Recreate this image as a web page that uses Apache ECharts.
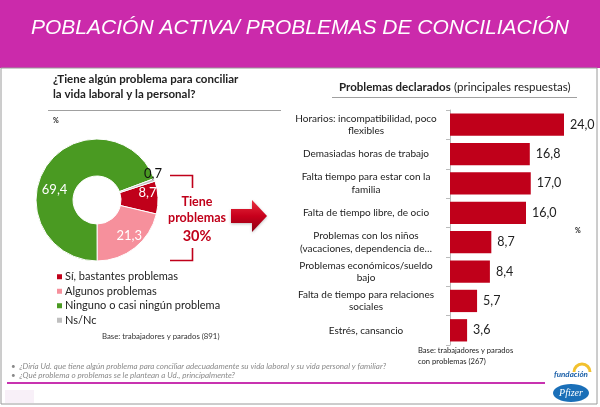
<!DOCTYPE html>
<html>
<head>
<meta charset="utf-8">
<script src="https://cdn.jsdelivr.net/npm/echarts@6/dist/echarts.min.js"></script>
<style>
html,body{margin:0;padding:0;background:#fff;}
#c{width:600px;height:407px;}
</style>
</head>
<body>
<div id="c"></div>
<script>
// ---- data ----
const pieNames = ['Sí, bastantes problemas', 'Algunos problemas', 'Ninguno o casi ningún problema', 'Ns/Nc'];
const pieValues = [8.7, 21.3, 69.4, 0.7];
const pieColors = ['#C0001A', '#F6909C', '#4A9A22', '#BFBFBF'];

const barCategories = [
  'Horarios: incompatibilidad, poco\nflexibles',
  'Demasiadas horas de trabajo',
  'Falta tiempo para estar con la\nfamilia',
  'Falta de tiempo libre, de ocio',
  'Problemas con los niños\n(vacaciones, dependencia de…',
  'Problemas económicos/sueldo\nbajo',
  'Falta de tiempo para relaciones\nsociales',
  'Estrés, cansancio'
];
const barValues = [24.0, 16.8, 17.0, 16.0, 8.7, 8.4, 5.7, 3.6];

const fmt = v => v.toFixed(1).replace('.', ',');
const FONT = 'Lato, "Open Sans", sans-serif';

// label nudges for the donut (relative to the library's inside position)
const pieLabelNudge = [[5, -5], [4, 0], [-5, 16], [13, -11]];

const chart = echarts.init(document.getElementById('c'), null, {renderer: 'canvas'});

const option = {
  animation: false,
  backgroundColor: '#ffffff',
  textStyle: {fontFamily: FONT},
  legend: {
    orient: 'vertical',
    left: 55,
    top: 271,
    padding: 0,
    itemWidth: 7,
    itemHeight: 7,
    itemGap: 3,
    icon: 'rect',
    textStyle: {fontSize: 11, lineHeight: 11.5, color: '#222', fontFamily: FONT, padding: [0, 0, 0, -3]},
    data: pieNames
  },
  grid: {left: 450, top: 110, width: 123.5, height: 235},
  xAxis: {type: 'value', min: 0, max: 26, show: false},
  yAxis: {
    type: 'category',
    inverse: true,
    data: barCategories,
    axisLine: {show: true, lineStyle: {color: '#BBBBBB', width: 1}},
    axisTick: {show: true, length: 4, lineStyle: {color: '#BBBBBB'}},
    axisLabel: {
      margin: 9,
      formatter: v => v.split('\n').map(s => '{a|' + s + '}').join('\n'),
      rich: {a: {fontSize: 10, color: '#222', fontFamily: FONT, align: 'center', width: 150, lineHeight: 12.5}}
    }
  },
  series: [
    {
      type: 'pie',
      center: [97, 200],
      radius: [24, 61],
      startAngle: 18,
      clockwise: true,
      avoidLabelOverlap: false,
      itemStyle: {borderColor: '#fff', borderWidth: 1},
      label: {
        show: true,
        position: 'inside',
        color: '#fff',
        fontSize: 13,
        fontFamily: FONT,
        formatter: p => fmt(p.value)
      },
      labelLine: {show: false},
      labelLayout: p => ({dx: pieLabelNudge[p.dataIndex][0], dy: pieLabelNudge[p.dataIndex][1]}),
      data: pieNames.map((n, i) => ({
        name: n, value: pieValues[i], itemStyle: {color: pieColors[i]},
        label: i === 3 ? {color: '#111'} : {}
      }))
    },
    {
      type: 'bar',
      data: barValues,
      barCategoryGap: '24%',
      itemStyle: {color: '#C0001A'},
      label: {
        show: true, position: 'right', distance: 6,
        fontSize: 12.5, color: '#222', fontFamily: FONT,
        formatter: p => fmt(p.value)
      }
    }
  ],
  graphic: [
    // title band
    {type: 'rect', z: -10, shape: {x: 0, y: 0, width: 600, height: 68}, style: {fill: '#CB2AAB'}},
    {type: 'text', x: 300, y: 28, style: {text: 'POBLACIÓN ACTIVA/ PROBLEMAS DE CONCILIACIÓN', fill: '#fff',
      font: 'italic 21px "Liberation Sans", Arial, sans-serif', align: 'center', verticalAlign: 'middle'}},
    // panel frame
    {type: 'rect', z: -9, shape: {x: 1, y: 68, width: 596, height: 336}, style: {fill: 'none', stroke: '#9A9A9A', lineWidth: 1}},
    // left heading
    {type: 'text', x: 53, y: 87, style: {text: '¿Tiene algún problema para conciliar\nla vida laboral y la personal?', fill: '#222',
      font: 'bold 11.5px ' + FONT, lineHeight: 15, verticalAlign: 'middle'}},
    {type: 'line', shape: {x1: 48, y1: 110.5, x2: 281, y2: 110.5}, style: {stroke: '#A0A0A0', lineWidth: 1}},
    {type: 'text', x: 53, y: 121, style: {text: '%', fill: '#222', font: 'bold 7px ' + FONT, verticalAlign: 'middle'}},
    // bracket
    {type: 'polyline', shape: {points: [[170, 175.5], [192.5, 175.5], [192.5, 188]]}, style: {stroke: '#C0001A', lineWidth: 1.6, fill: 'none'}},
    {type: 'polyline', shape: {points: [[192.5, 248], [192.5, 260.5], [170, 260.5]]}, style: {stroke: '#C0001A', lineWidth: 1.6, fill: 'none'}},
    {type: 'text', x: 197, y: 202, style: {text: 'Tiene', fill: '#C0001A', font: 'bold 12.5px ' + FONT, align: 'center', verticalAlign: 'middle'}},
    {type: 'text', x: 197, y: 218, style: {text: 'problemas', fill: '#C0001A', font: 'bold 12.5px ' + FONT, align: 'center', verticalAlign: 'middle'}},
    {type: 'text', x: 197, y: 236, style: {text: '30%', fill: '#C0001A', font: 'bold 14.5px ' + FONT, align: 'center', verticalAlign: 'middle'}},
    // arrow
    {type: 'polygon', shape: {points: [[231, 209], [252, 209], [252, 200], [267, 216], [252, 232], [252, 223], [231, 223]]},
      style: {fill: new echarts.graphic.LinearGradient(0, 0, 0, 1, [
        {offset: 0, color: '#E8303F'}, {offset: 0.5, color: '#C8001C'}, {offset: 1, color: '#8E0012'}]),
        shadowColor: 'rgba(0,0,0,0.25)', shadowBlur: 3, shadowOffsetY: 1}},
    // left base
    {type: 'text', x: 102, y: 336, style: {text: 'Base: trabajadores y parados (891)', fill: '#333', font: '7.8px ' + FONT, verticalAlign: 'middle'}},
    // right heading
    {type: 'text', x: 339, y: 87, style: {text: '{b|Problemas declarados} {n|(principales respuestas)}', verticalAlign: 'middle',
      rich: {b: {font: 'bold 11.5px ' + FONT, fill: '#222'}, n: {font: '11.5px ' + FONT, fill: '#222'}}}},
    {type: 'line', shape: {x1: 332, y1: 97.5, x2: 577, y2: 97.5}, style: {stroke: '#A0A0A0', lineWidth: 1}},
    {type: 'text', x: 575, y: 231, style: {text: '%', fill: '#222', font: 'bold 7px ' + FONT, verticalAlign: 'middle'}},
    // right base
    {type: 'text', x: 418, y: 356, style: {text: 'Base: trabajadores y parados\ncon problemas (267)', fill: '#222', font: '7.6px ' + FONT, lineHeight: 10.5, verticalAlign: 'middle'}},
    // footnotes
    {type: 'text', x: 11, y: 366, style: {text: '•  ¿Diría Ud. que tiene algún problema para conciliar adecuadamente su vida laboral y su vida personal y familiar?', fill: '#8A8A8A', font: 'italic 8px ' + FONT, verticalAlign: 'middle'}},
    {type: 'text', x: 11, y: 375.5, style: {text: '•  ¿Qué problema o problemas se le plantean a Ud., principalmente?', fill: '#8A8A8A', font: 'italic 8px ' + FONT, verticalAlign: 'middle'}},
    {type: 'line', shape: {x1: 7, y1: 383, x2: 545, y2: 383}, style: {stroke: '#C832B0', lineWidth: 2.2}},
    {type: 'rect', shape: {x: 5, y: 390, width: 29, height: 13}, style: {fill: '#F8F0F8'}},
    // logos
    {type: 'arc', shape: {cx: 582, cy: 372, r: 8, startAngle: Math.PI, endAngle: 2 * Math.PI}, style: {stroke: '#F2C12E', lineWidth: 3, fill: 'none'}},
    {type: 'text', x: 571, y: 374, style: {text: 'fundación', fill: '#1A5FA8', font: 'italic bold 8px ' + FONT, align: 'center', verticalAlign: 'middle'}},
    {type: 'ellipse', shape: {cx: 571, cy: 393, rx: 18, ry: 9}, style: {fill: '#1A6FB8'}},
    {type: 'text', x: 571, y: 393, style: {text: 'Pfizer', fill: '#fff', font: 'italic 10px "Liberation Serif", serif', align: 'center', verticalAlign: 'middle'}}
  ]
};
chart.setOption(option);
</script>
</body>
</html>
